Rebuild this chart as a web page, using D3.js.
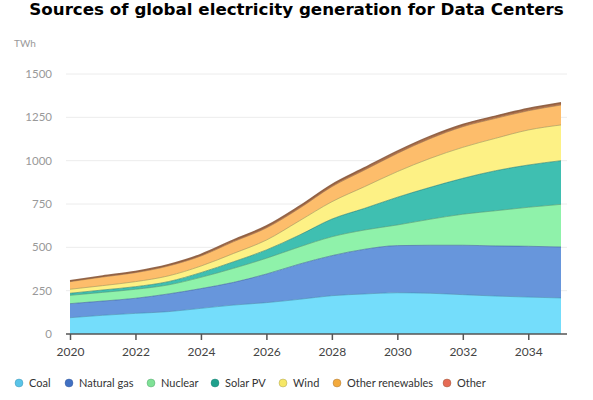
<!DOCTYPE html>
<html>
<head>
<meta charset="utf-8">
<script src="https://cdn.jsdelivr.net/npm/d3@7"></script>
<style>
  body { margin: 0; background: #fff; }
  svg { display: block; }
</style>
</head>
<body>
<div id="chart"></div>
<script>
var svgWidth = 593;
var svgHeight = 400;

// data (TWh)
var years = [2020, 2021, 2022, 2023, 2024, 2025, 2026, 2027, 2028, 2029, 2030, 2031, 2032, 2033, 2034, 2035];
var coal = [94, 108, 119, 129, 148, 167, 181, 200, 221, 231, 238, 235, 227, 219, 213, 208];
var naturalGas = [81, 82, 87, 102, 114, 131, 165, 203, 231, 258, 272, 277, 285, 289, 293, 294];
var nuclear = [48, 50, 52, 52, 65, 81, 91, 99, 109, 111, 119, 150, 179, 203, 225, 246];
var solarPV = [12, 14, 15, 19, 27, 38, 48, 68, 102, 125, 160, 184, 207, 231, 244, 252];
var wind = [23, 25, 29, 33, 38, 48, 57, 82, 100, 125, 148, 167, 179, 187, 202, 206];
var otherRenewables = [44, 50, 52, 57, 58, 68, 70, 72, 87, 96, 105, 114, 119, 115, 111, 115];
var other = [5, 6, 7, 8, 9, 10, 11, 12, 12, 13, 13, 13, 13, 13, 13, 13];

var seriesNames = ["Coal", "Natural gas", "Nuclear", "Solar PV", "Wind", "Other renewables", "Other"];
var seriesValues = [coal, naturalGas, nuclear, solarPV, wind, otherRenewables, other];
var yTicks = [0, 250, 500, 750, 1000, 1250, 1500];
var xTicks = [2020, 2022, 2024, 2026, 2028, 2030, 2032, 2034];

var areaColors = ["#74ddfb", "#6796dc", "#8ff2aa", "#3fbfb1", "#fdf185", "#fdbd6b", "#b0704c"];
var lineColors = ["#3f8fb0", "#3e5f9c", "#4f9a6a", "#237d73", "#9c9450", "#9c7040", "#8a5a3c"];
var dotColors = ["#5ac4e8", "#4170c2", "#7fe196", "#1fa08c", "#f6e766", "#f3aa3d", "#e66b55"];

var rows = years.map(function(y, i) {
  var r = { year: y };
  seriesNames.forEach(function(n, j) { r[n] = seriesValues[j][i]; });
  return r;
});

var svg = d3.select("#chart")
  .append("svg")
  .attr("width", svgWidth)
  .attr("height", svgHeight);

var xScale = d3.scaleLinear()
  .domain([2020, 2035])
  .range([70, 561]);

var yScale = d3.scaleLinear()
  .domain([0, 1500])
  .range([334, 74]);

// Title
var title = svg.append("text")
  .attr("x", svgWidth / 2)
  .attr("y", 15)
  .attr("text-anchor", "middle")
  .attr("font-family", "DejaVu Sans")
  .attr("font-weight", "bold")
  .attr("font-size", "17px")
  .attr("fill", "#000")
  .text("Sources of global electricity generation for Data Centers");
var tw = title.node().getComputedTextLength();
title.attr("font-size", (17 * 535 / tw) + "px");

// unit label
svg.append("text")
  .attr("x", 14)
  .attr("y", 47)
  .attr("font-family", "Lato, sans-serif")
  .attr("font-size", "10px")
  .attr("fill", "#999")
  .text("TWh");

// gridlines + y labels
svg.append("g").selectAll("line")
  .data(yTicks.filter(function(d) { return d > 0; }))
  .enter().append("line")
  .attr("x1", 66).attr("x2", 567)
  .attr("y1", d => yScale(d)).attr("y2", d => yScale(d))
  .attr("stroke", "#ececec")
  .attr("stroke-width", 1);

svg.append("g").selectAll("text")
  .data(yTicks)
  .enter().append("text")
  .attr("x", 52)
  .attr("y", d => yScale(d))
  .attr("dy", "0.35em")
  .attr("text-anchor", "end")
  .attr("font-family", "Lato, sans-serif")
  .attr("font-size", "11.5px")
  .attr("fill", "#999")
  .text(d => d);

// stacked areas
var stack = d3.stack().keys(seriesNames);
var layers = stack(rows);

var area = d3.area()
  .x(d => xScale(d.data.year))
  .y0(d => yScale(d[0]))
  .y1(d => yScale(d[1]))
  .curve(d3.curveMonotoneX);

var topLine = d3.line()
  .x(d => xScale(d.data.year))
  .y(d => yScale(d[1]))
  .curve(d3.curveMonotoneX);

svg.append("g").selectAll("path")
  .data(layers)
  .enter().append("path")
  .attr("d", area)
  .attr("fill", (d, i) => areaColors[i]);

svg.append("g").selectAll("path")
  .data(layers)
  .enter().append("path")
  .attr("d", topLine)
  .attr("fill", "none")
  .attr("stroke", (d, i) => lineColors[i])
  .attr("stroke-opacity", (d, i) => i === 6 ? 0.9 : 0.6)
  .attr("stroke-width", (d, i) => i === 6 ? 1.5 : 1);

// x axis
var bottomAxis = d3.axisBottom(xScale)
  .tickValues(xTicks)
  .tickFormat(d3.format("d"))
  .tickSize(6)
  .tickSizeOuter(0);

var xAxisG = svg.append("g")
  .attr("transform", "translate(0, 334)")
  .call(bottomAxis);
xAxisG.select(".domain").remove();
xAxisG.append("line")
  .attr("x1", 66).attr("x2", 567)
  .attr("stroke", "#555").attr("stroke-width", 1.5);
xAxisG.selectAll(".tick line").attr("stroke", "#555").attr("stroke-width", 1.5);
xAxisG.selectAll(".tick text")
  .attr("font-family", "Lato, sans-serif")
  .attr("font-size", "12px")
  .attr("fill", "#444")
  .attr("dy", "1.05em");

// legend
var legendX = [19, 69, 151, 215, 283, 337, 447];
var legend = svg.append("g").selectAll("g")
  .data(seriesNames)
  .enter().append("g")
  .attr("transform", (d, i) => `translate(${legendX[i]}, 383)`);

legend.append("circle")
  .attr("r", 4)
  .attr("fill", (d, i) => dotColors[i])
  .attr("stroke", (d, i) => lineColors[i])
  .attr("stroke-opacity", 0.5)
  .attr("stroke-width", 0.8);

legend.append("text")
  .attr("x", 10)
  .attr("dy", "0.35em")
  .attr("font-family", "Lato, sans-serif")
  .attr("font-size", "11px")
  .attr("fill", "#333")
  .text(d => d);
</script>
</body>
</html>
